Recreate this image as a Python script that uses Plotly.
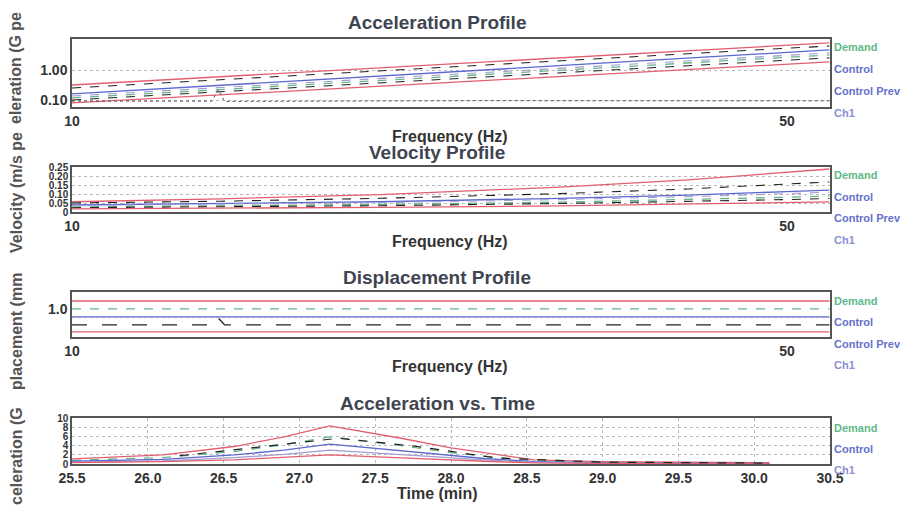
import plotly.graph_objects as go
from plotly.subplots import make_subplots

# ---------------- data ----------------
freq = [10, 14, 20, 30, 40, 50, 55]

# Acceleration profile (G peak)
acc_abort_hi = [0.317, 0.598, 1.17, 2.53, 4.36, 6.65, 8.0]
acc_alarm_hi = [0.252, 0.475, 0.93, 2.01, 3.46, 5.28, 6.35]
acc_control = [0.159, 0.309, 0.627, 1.40, 2.48, 3.85, 4.68]
acc_control_prev = [0.136, 0.261, 0.521, 1.15, 2.00, 3.08, 3.72]
acc_demand = [0.117, 0.224, 0.447, 0.98, 1.71, 2.64, 3.18]
acc_alarm_lo = [0.100, 0.189, 0.372, 0.80, 1.38, 2.10, 2.53]
acc_abort_lo = [0.080, 0.148, 0.286, 0.605, 1.03, 1.55, 1.86]
acc_ch1_freq = [10, 13.7, 13.9, 14.1, 25, 40, 55]
acc_ch1 = [0.092, 0.092, 0.22, 0.090, 0.095, 0.093, 0.094]

# Velocity profile (m/s peak)
vel_abort_hi = [0.057, 0.073, 0.097, 0.138, 0.178, 0.219, 0.239]
vel_alarm_hi = [0.050, 0.060, 0.076, 0.102, 0.128, 0.154, 0.167]
vel_control = [0.039, 0.046, 0.057, 0.076, 0.094, 0.113, 0.122]
vel_control_prev = [0.036, 0.043, 0.052, 0.069, 0.085, 0.102, 0.110]
vel_demand = [0.028, 0.033, 0.042, 0.055, 0.069, 0.082, 0.089]
vel_ch1 = [0.024, 0.029, 0.035, 0.047, 0.058, 0.069, 0.075]
vel_abort_lo = [0.017, 0.020, 0.026, 0.034, 0.043, 0.052, 0.056]

# Displacement profile (mm peak)
disp_freq = [10, 55]
disp_abort_hi = [1.38, 1.38]
disp_demand = [1.0, 1.0]
disp_control = [0.72, 0.72]
disp_control_prev = [0.70, 0.70]
disp_ch1_freq = [10, 13.7, 13.9, 14.1, 55]
disp_ch1 = [0.52, 0.52, 0.69, 0.52, 0.52]
disp_abort_lo = [0.39, 0.39]

# Acceleration vs time
time_min = [25.5, 26.1, 26.57, 26.9, 27.2, 27.67, 28.0, 28.22, 28.55, 29.0, 30.1]
t_abort_hi = [1.1, 2.0, 3.8, 5.9, 8.3, 5.6, 3.5, 2.4, 0.9, 0.5, 0.3]
t_demand = [0.8, 1.4, 2.7, 4.2, 5.9, 4.0, 2.5, 1.7, 0.7, 0.4, 0.2]
t_control = [0.6, 1.0, 2.0, 3.0, 4.3, 2.9, 1.8, 1.2, 0.5, 0.3, 0.15]
t_control_prev = [0.4, 0.7, 1.4, 2.1, 3.0, 2.0, 1.3, 0.9, 0.35, 0.2, 0.1]
t_abort_lo = [0.3, 0.5, 0.9, 1.4, 2.0, 1.35, 0.85, 0.6, 0.25, 0.12, 0.08]
t_ch1_time = [26.21, 26.7, 27.26, 27.78, 28.3, 29.0, 30.1]
t_ch1 = [1.8, 3.5, 5.6, 3.8, 1.3, 0.4, 0.2]

time_ticks = [25.5, 26.0, 26.5, 27.0, 27.5, 28.0, 28.5, 29.0, 29.5, 30.0, 30.5]
time_ticklabels = ["25.5", "26.0", "26.5", "27.0", "27.5", "28.0", "28.5", "29.0", "29.5", "30.0", "30.5"]

# ---------------- styles ----------------
RED = "#e2606e"
BLUE = "#5b68cf"
GREEN = "#66b588"
PURPLE = "#a39ad6"
BLACK = "#222222"
FONT = "Liberation Sans, Arial, sans-serif"
W, H = 903, 508
L, R = 72, 830


def px_x(p):
    return (p - L) / (R - L)


def px_y(p):
    return 1 - p / H


fig = make_subplots(rows=4, cols=1)

def add(x, y, row, color, dash="solid", width=1.3):
    fig.add_trace(go.Scatter(x=x, y=y, mode="lines", showlegend=False, hoverinfo="skip",
                             line=dict(color=color, dash=dash, width=width)), row=row, col=1)

# plot 1
add(freq, acc_abort_hi, 1, RED)
add(freq, acc_alarm_hi, 1, BLACK, "dash", 1.1)
add(freq, acc_control, 1, BLUE)
add(freq, acc_control_prev, 1, PURPLE, "dash", 1.1)
add(freq, acc_demand, 1, GREEN, "dash", 1.3)
add(freq, acc_alarm_lo, 1, BLACK, "dash", 1.1)
add(freq, acc_abort_lo, 1, RED)
add(acc_ch1_freq, acc_ch1, 1, "#555555", "dot", 1.0)
# plot 2
add(freq, vel_abort_hi, 2, RED)
add(freq, vel_alarm_hi, 2, BLACK, "dash", 1.1)
add(freq, vel_control, 2, BLUE)
add(freq, vel_control_prev, 2, PURPLE, "dash", 1.1)
add(freq, vel_demand, 2, GREEN, "dash", 1.3)
add(freq, vel_ch1, 2, BLACK, "dash", 1.1)
add(freq, vel_abort_lo, 2, RED)
# plot 3
add(disp_freq, disp_abort_hi, 3, RED)
add(disp_freq, disp_demand, 3, GREEN, "dash", 1.3)
add(disp_freq, disp_control, 3, BLUE)
add(disp_freq, disp_control_prev, 3, PURPLE, "dot", 1.0)
add(disp_ch1_freq, disp_ch1, 3, BLACK, "longdash", 1.4)
add(disp_freq, disp_abort_lo, 3, RED)
# plot 4
add(time_min, t_abort_hi, 4, RED)
add(time_min, t_demand, 4, GREEN, "dash", 1.3)
add(time_min, t_control, 4, BLUE)
add(time_min, t_control_prev, 4, PURPLE)
add(time_min, t_abort_lo, 4, RED)
add(t_ch1_time, t_ch1, 4, BLACK, "dash", 1.2)

# ---------------- axes ----------------
domains = [(39, 107), (167, 212), (292, 337), (418, 464)]
tickfont = dict(family=FONT, size=14, color="#333333", weight="bold")
axis_common = dict(showline=True, linecolor="#555555", linewidth=1.5, mirror=True,
                   ticks="", ticklen=0, tickfont=tickfont, zeroline=False, automargin=False)
for i, (top, bot) in enumerate(domains, start=1):
    fig.update_yaxes(domain=[px_y(bot), px_y(top)], row=i, col=1, **axis_common)
    fig.update_xaxes(domain=[0, 1], row=i, col=1, **axis_common)

grid = dict(showgrid=True, gridcolor="#b8b8b8", griddash="dot", gridwidth=1)
for i in (1, 2, 3):
    fig.update_xaxes(type="log", range=[1, 1.741], tickvals=[10, 50], ticktext=["10", "50"],
                     showgrid=False, row=i, col=1)
fig.update_yaxes(type="log", range=[-1.233, 1.034], tickvals=[0.1, 1.0],
                 ticktext=["0.10", "1.00"], row=1, col=1, **grid)
small_tick = dict(family=FONT, size=10, color="#333333", weight="bold")
fig.update_yaxes(range=[0, 0.25], tickvals=[0, 0.05, 0.10, 0.15, 0.20, 0.25],
                 ticktext=["0", "0.05", "0.10", "0.15", "0.20", "0.25"],
                 tickfont=small_tick, row=2, col=1, **grid)
fig.update_yaxes(type="log", range=[-0.5, 0.3], tickvals=[1.0], ticktext=["1.0"],
                 showgrid=False, row=3, col=1)
fig.update_xaxes(range=[25.5, 30.5], tickvals=time_ticks, ticktext=time_ticklabels,
                 row=4, col=1, **grid)
fig.update_yaxes(range=[0, 10], tickvals=[0, 2, 4, 6, 8, 10],
                 ticktext=["0", "2", "4", "6", "8", "10"], tickfont=small_tick,
                 row=4, col=1, **grid)

# ---------------- text ----------------
ann = []
title_font = dict(family=FONT, size=19, color="#3e4450", weight="bold")
for text, y in [("Acceleration Profile", 22), ("Velocity Profile", 152),
                ("Displacement Profile", 277), ("Acceleration vs. Time", 403)]:
    ann.append(dict(text=text, x=px_x(437), y=px_y(y), xref="paper", yref="paper",
                    showarrow=False, font=title_font, xanchor="center", yanchor="middle"))

xt_font = dict(family=FONT, size=16, color="#333333", weight="bold")
for text, x, y in [("Frequency (Hz)", 450, 137), ("Frequency (Hz)", 450, 241),
                   ("Frequency (Hz)", 450, 366), ("Time (min)", 437, 493)]:
    ann.append(dict(text=text, x=px_x(x), y=px_y(y), xref="paper", yref="paper",
                    showarrow=False, font=xt_font, xanchor="center", yanchor="middle"))

yt_font = dict(family=FONT, size=16, color="#555555", weight="bold")
for text, y in [("eleration (G pe", 68), ("Velocity (m/s pe", 193),
                ("placement (mm", 332), ("celeration (G", 456)]:
    ann.append(dict(text=text, x=px_x(16), y=px_y(y), xref="paper", yref="paper",
                    showarrow=False, font=yt_font, textangle=-90,
                    xanchor="center", yanchor="middle"))

leg_colors = {"Demand": "#5fb889", "Control": "#6571cc", "Control Prev": "#6571cc", "Ch1": "#8a90d4"}
legend_sets = [
    (["Demand", "Control", "Control Prev", "Ch1"], [47, 69, 91, 113]),
    (["Demand", "Control", "Control Prev", "Ch1"], [175, 197, 218, 240]),
    (["Demand", "Control", "Control Prev", "Ch1"], [301, 322, 344, 365]),
    (["Demand", "Control", "Ch1"], [428, 449, 470]),
]
for names, ys in legend_sets:
    for n, y in zip(names, ys):
        ann.append(dict(text=n, x=px_x(832), y=px_y(y), xref="paper", yref="paper",
                        showarrow=False, xanchor="left", yanchor="middle",
                        font=dict(family=FONT, size=11, color=leg_colors[n], weight="bold")))

fig.update_layout(width=W, height=H, margin=dict(l=L, r=W - R, t=0, b=0, pad=0),
                  paper_bgcolor="white", plot_bgcolor="white", showlegend=False,
                  annotations=ann, font=dict(family=FONT))

fig.write_html("out.html", config={"displayModeBar": False},
               post_script="document.body.style.margin='0';")
